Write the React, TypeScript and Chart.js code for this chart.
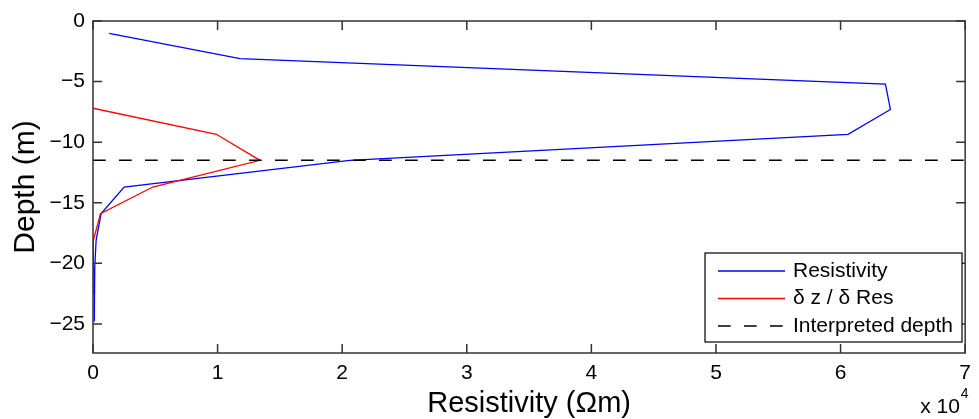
import React, { useEffect, useRef } from "react";
import { Chart, registerables } from "chart.js";

Chart.register(...registerables);

// ---- data ----
const depthResistivity = [-1.03, -3.1, -5.2, -7.3, -9.35, -11.5, -13.7, -15.9, -18.1, -20.3, -22.5, -24.8];
const resistivity = [1300, 11800, 63600, 64000, 60600, 20600, 2500, 650, 250, 140, 110, 100];

const depthDerivative = [-7.2, -9.35, -11.5, -13.7, -15.9, -18.1, -20.3, -22.6];
const derivative = [0, 9900, 13400, 4800, 600, 30, 10, 0];

const interpretedDepth = [-11.5];
const xRange = [0, 70000];
const yRange = [-27.4, 0];

const xTickValues = [0, 10000, 20000, 30000, 40000, 50000, 60000, 70000];
const yTickValues = [-25, -20, -15, -10, -5, 0];

const seriesLabels = ["Resistivity", "δ z / δ Res", "Interpreted depth"];

const FONT = "'Liberation Sans', Arial, Helvetica, sans-serif";
const AXIS_COLOR = "#333333";

const boxAndExtras = {
  id: "boxAndExtras",
  afterDraw(chart: any) {
    const { ctx, chartArea } = chart;
    const { left, right, top, bottom } = chartArea;
    const xs = chart.scales.x;
    const ys = chart.scales.y;
    ctx.save();
    // box
    ctx.strokeStyle = AXIS_COLOR;
    ctx.lineWidth = 1.5;
    ctx.setLineDash([]);
    ctx.strokeRect(left, top, right - left, bottom - top);
    // inward ticks
    const tl = 9;
    ctx.beginPath();
    xs.ticks.forEach((t: any) => {
      const px = xs.getPixelForValue(t.value);
      ctx.moveTo(px, bottom);
      ctx.lineTo(px, bottom - tl);
      ctx.moveTo(px, top);
      ctx.lineTo(px, top + tl);
    });
    ys.ticks.forEach((t: any) => {
      const py = ys.getPixelForValue(t.value);
      ctx.moveTo(left, py);
      ctx.lineTo(left + tl, py);
      ctx.moveTo(right, py);
      ctx.lineTo(right - tl, py);
    });
    ctx.stroke();

    // exponent label
    ctx.fillStyle = "#000";
    ctx.textBaseline = "alphabetic";
    ctx.textAlign = "left";
    ctx.font = `21px ${FONT}`;
    const base = "x 10";
    const ex = right - 45;
    ctx.fillText(base, ex, 413);
    const w = ctx.measureText(base).width;
    ctx.font = `14px ${FONT}`;
    ctx.fillText("4", ex + w + 1, 398);

    // legend
    const lx = 705, ly = 253, lw = 257, lh = 89;
    ctx.fillStyle = "#fff";
    ctx.fillRect(lx, ly, lw, lh);
    ctx.strokeStyle = "#000";
    ctx.lineWidth = 1.2;
    ctx.strokeRect(lx, ly, lw, lh);
    const rows = [271, 298.5, 326];
    chart.data.datasets.forEach((ds: any, i: number) => {
      const y = rows[i];
      ctx.beginPath();
      ctx.strokeStyle = ds.borderColor;
      ctx.lineWidth = ds.borderWidth;
      ctx.setLineDash(ds.borderDash || []);
      ctx.moveTo(718, y);
      ctx.lineTo(785, y);
      ctx.stroke();
      ctx.setLineDash([]);
      ctx.fillStyle = "#000";
      ctx.font = `21px ${FONT}`;
      ctx.textBaseline = "middle";
      ctx.fillText(ds.label, 793, y);
    });
    ctx.restore();
  },
};

export default function App() {
  const ref = useRef<HTMLCanvasElement>(null);
  useEffect(() => {
    if (!ref.current) return;
    const chart = new Chart(ref.current, {
      type: "scatter",
      data: {
        datasets: [
          {
            label: seriesLabels[0],
            data: resistivity.map((v, i) => ({ x: v, y: depthResistivity[i] })),
            showLine: true,
            borderColor: "#0000ff",
            borderWidth: 1.3,
            pointRadius: 0,
            order: 3,
          },
          {
            label: seriesLabels[1],
            data: derivative.map((v, i) => ({ x: v, y: depthDerivative[i] })),
            showLine: true,
            borderColor: "#ff0000",
            borderWidth: 1.3,
            pointRadius: 0,
            order: 2,
          },
          {
            label: seriesLabels[2],
            data: xRange.map((x) => ({ x, y: interpretedDepth[0] })),
            showLine: true,
            borderColor: "#000000",
            borderWidth: 1.5,
            borderDash: [12.7, 13.3],
            pointRadius: 0,
            order: 1,
          },
        ],
      },
      options: {
        responsive: false,
        maintainAspectRatio: false,
        animation: false,
        devicePixelRatio: 1,
        layout: { padding: { top: 21, right: 9, left: 0, bottom: 0 } },
        plugins: { legend: { display: false }, tooltip: { enabled: false } },
        scales: {
          x: {
            type: "linear",
            position: "bottom",
            min: xRange[0],
            max: xRange[1],
            afterBuildTicks: (axis: any) => {
              axis.ticks = xTickValues.map((v) => ({ value: v }));
            },
            afterFit: (axis: any) => {
              axis.height = 66;
            },
            grid: { display: false, drawTicks: false },
            border: { display: false },
            ticks: {
              color: "#000",
              font: { family: FONT, size: 21 },
              padding: 8,
              maxRotation: 0,
              autoSkip: false,
              callback: (v: any) => String(Number(v) / 10000),
            },
            title: {
              display: true,
              text: "Resistivity (Ωm)",
              color: "#000",
              font: { family: FONT, size: 29, lineHeight: 1 },
              padding: { top: 0, bottom: 0.5 },
            },
          },
          y: {
            type: "linear",
            min: yRange[0],
            max: yRange[1],
            afterBuildTicks: (axis: any) => {
              axis.ticks = yTickValues.map((v) => ({ value: v }));
            },
            afterFit: (axis: any) => {
              axis.width = 93;
            },
            grid: { display: false, drawTicks: false },
            border: { display: false },
            ticks: {
              color: "#000",
              font: { family: FONT, size: 21 },
              padding: 8,
              autoSkip: false,
              callback: (v: any) => {
                const n = Number(v);
                return n < 0 ? "\u2212" + String(Math.abs(n)) : String(n);
              },
            },
            title: {
              display: true,
              text: "Depth (m)",
              color: "#000",
              font: { family: FONT, size: 30, lineHeight: 1 },
              padding: { top: 11, bottom: 0 },
            },
          },
        },
      },
      plugins: [boxAndExtras],
    } as any);
    return () => chart.destroy();
  }, []);
  return (
    <div style={{ position: "fixed", left: 0, top: 0, width: 979, height: 419, background: "#fff" }}>
      <canvas ref={ref} width={979} height={419} style={{ display: "block" }} />
    </div>
  );
}
